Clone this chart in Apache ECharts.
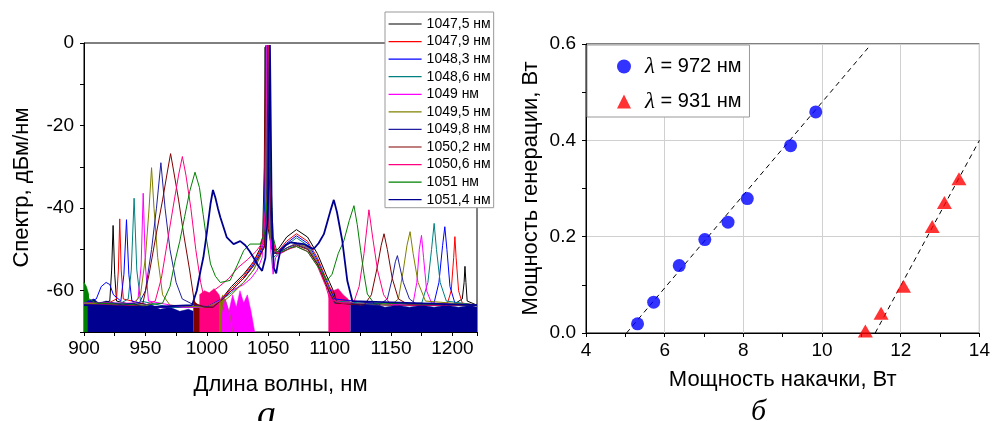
<!DOCTYPE html>
<html>
<head>
<meta charset="utf-8">
<script src="https://cdn.jsdelivr.net/npm/echarts@6/dist/echarts.min.js"></script>
<style>
html, body { margin: 0; padding: 0; background: #fff; }
#chart { width: 993px; height: 421px; }
</style>
</head>
<body>
<div id="chart"></div>
<script>
// ---- panel a: spectra, [wavelength nm, dBm/nm] ----
var spectrumNames = ['1047,5 нм', '1047,9 нм', '1048,3 нм', '1048,6 нм', '1049 нм', '1049,5 нм',
    '1049,8 нм', '1050,2 нм', '1050,6 нм', '1051 нм', '1051,4 нм'];

var sp1047_5 = [[900,-63],[915,-63],[921,-62.5],[922.5,-55],[923.7,-44.2],[925,-56],[926.5,-62.5],[940,-63.5],[960,-64],[980,-64],[1000,-64],[1012,-62],[1020,-59],[1030,-56],[1038,-53],[1043,-50],[1045.5,-47],[1046.8,-30],[1047.5,-1],[1048.2,-30],[1050,-45],[1053,-50],[1058,-50],[1065,-47],[1073,-45.2],[1082,-47],[1090,-51],[1097,-56],[1100,-58],[1103,-60],[1106,-63],[1150,-63.5],[1200,-63.5],[1208,-62],[1209.5,-58],[1210.2,-54.1],[1211,-58],[1212,-62.5],[1220,-63.5]];
var sp1047_9 = [[900,-63],[920,-63],[926.5,-62],[928,-55],[929.1,-42.6],[930.3,-55],[932,-62],[960,-64],[1000,-64],[1012,-62],[1020,-59.5],[1030,-56.5],[1038,-53],[1043,-50.5],[1046,-48],[1047.2,-30],[1047.9,-0.8],[1048.6,-30],[1050.5,-45],[1053,-50],[1058,-50.5],[1065,-48],[1073,-46.2],[1082,-48],[1090,-52],[1097,-57],[1100,-59],[1104,-62],[1150,-63.5],[1196,-63],[1199,-60],[1201,-52],[1202,-46.9],[1203,-52],[1205,-60],[1208,-63],[1220,-63.5]];
var sp1048_3 = [[900,-63],[910,-62],[914,-59],[918,-58],[921,-58.5],[924,-61],[930,-62.5],[932.5,-56],[934.6,-42.8],[936.5,-56],[939,-62.5],[960,-64],[1000,-64],[1012,-62],[1020,-60],[1030,-57],[1038,-53.5],[1043,-51],[1046.5,-48.5],[1047.6,-30],[1048.3,-0.5],[1049,-30],[1051,-45],[1054,-51],[1058,-50.5],[1065,-48.5],[1073,-46.7],[1082,-48.5],[1090,-52.5],[1097,-57.5],[1100,-59.5],[1104,-62],[1150,-63.5],[1185,-63],[1189,-58],[1192,-49],[1193.8,-44.5],[1195.5,-50],[1198,-59],[1202,-63],[1220,-63.5]];
var sp1048_6 = [[900,-63],[930,-63],[936,-62],[938.5,-55],[940.8,-37.6],[943,-55],[946,-62.5],[970,-64],[1000,-64],[1013,-62],[1020,-60.5],[1030,-58],[1038,-55],[1043,-52],[1047,-49],[1048,-30],[1048.6,-0.6],[1049.3,-30],[1051.5,-46],[1054,-52],[1058,-51],[1065,-49],[1073,-47.2],[1082,-49],[1090,-53],[1097,-58],[1100,-60],[1104,-62.5],[1150,-63.5],[1175,-63],[1180,-58],[1183,-50],[1185.1,-43.7],[1187,-50],[1190,-58],[1195,-62.5],[1220,-63.5]];
var sp1049 = [[900,-63],[940,-63],[944,-62],[946.5,-54],[948.2,-36.4],[950,-54],[952.5,-62.5],[980,-64],[1000,-64],[1010,-62.5],[1020,-60],[1030,-58.5],[1036,-57],[1041,-55],[1045,-52],[1047.8,-40],[1049,-0.5],[1050.2,-35],[1052,-50],[1054,-56],[1056,-52],[1060,-50.5],[1066,-49.5],[1073,-48.5],[1082,-49.5],[1090,-53],[1097,-58],[1100,-61],[1106,-63],[1150,-63.5],[1168,-63],[1171,-58],[1173,-50],[1174.8,-46.6],[1176.5,-52],[1179,-60],[1183,-63],[1220,-63.5]];
var sp1049_5 = [[900,-63],[940,-63.5],[946,-61],[950,-52],[953,-40],[955,-30.2],[957,-40],[960,-52],[964,-61],[970,-63.5],[1000,-64],[1008,-63],[1014,-62.5],[1020,-61],[1030,-58],[1038,-55],[1043,-52],[1047,-49],[1048.8,-35],[1049.5,-0.6],[1050.2,-30],[1052,-47],[1055,-51],[1060,-50.5],[1066,-49.5],[1073,-48.5],[1082,-49.5],[1090,-53],[1097,-58],[1100,-60],[1104,-63],[1150,-63.5],[1156,-62],[1160,-55],[1163,-49],[1165.5,-45.7],[1168,-51],[1172,-58],[1178,-62.5],[1220,-63.5]];
var sp1049_8 = [[900,-63.5],[945,-63],[950,-60],[955,-50],[959,-40],[962.6,-29],[966,-40],[970,-50],[975,-58],[980,-62],[990,-63.5],[1005,-64],[1013,-62],[1020,-60],[1030,-57],[1038,-54],[1043,-51.5],[1047,-49],[1049,-35],[1049.8,-0.5],[1050.6,-30],[1052.5,-47],[1055,-51],[1060,-50.5],[1066,-49.5],[1073,-48.8],[1082,-49.8],[1090,-53.5],[1097,-58.5],[1100,-60.5],[1104,-63],[1140,-63.5],[1147,-62],[1151,-57],[1153.5,-53],[1155.2,-51.5],[1157,-54],[1160,-58],[1165,-62],[1172,-63.5],[1220,-63.5]];
var sp1050_2 = [[900,-63.5],[940,-63.5],[948,-63],[953,-56],[959,-46],[964,-38],[968,-31],[970.5,-26.8],[973,-31],[977,-38],[981,-46],[986,-55],[990,-63],[998,-64],[1005,-64],[1013,-62],[1020,-60],[1030,-57],[1038,-54],[1043,-51.5],[1047,-49.5],[1049.5,-35],[1050.2,-0.5],[1051,-30],[1053,-47],[1056,-51],[1060,-50.8],[1066,-50],[1073,-49],[1082,-50],[1090,-53.5],[1097,-58.5],[1100,-60.5],[1105,-63],[1128,-63.5],[1134,-61],[1139,-54],[1142,-49],[1144.3,-46.2],[1147,-50],[1151,-57],[1156,-62],[1165,-63.5],[1220,-63.5]];
var sp1050_6 = [[900,-63.5],[950,-63.5],[958,-62.5],[963,-57],[968,-48],[973,-39],[977,-32],[980.1,-27.5],[983,-32],[987,-40],[991,-50],[995,-58],[998,-62],[1003,-60.5],[1010,-59],[1018,-57],[1025,-54.5],[1033,-52.5],[1040,-50.5],[1045,-48.5],[1049.8,-35],[1050.6,-0.5],[1051.4,-30],[1053.5,-47],[1056,-50.5],[1060,-51],[1066,-50],[1073,-49.3],[1082,-50.5],[1090,-54],[1097,-59],[1100,-62],[1110,-63],[1117,-63],[1120,-62.5],[1124,-59],[1128,-51],[1132,-40.4],[1135,-47],[1139,-55],[1144,-61],[1150,-63.5],[1220,-63.5]];
var sp1051 = [[900,-58],[902,-60],[904,-62],[910,-63],[950,-63.5],[964,-63],[970,-59],[974,-53],[978,-48],[982,-42],[986,-36],[990.4,-31.3],[994,-35],[997,-41.5],[1000,-48],[1003,-53.5],[1007,-56.5],[1011,-58],[1019,-57.5],[1024.5,-54],[1030,-50.3],[1035,-48.7],[1043.5,-48.7],[1047.7,-45.5],[1050.2,-30],[1051,-0.5],[1051.8,-30],[1054,-47],[1057,-50.5],[1062,-50.5],[1068,-49.6],[1073,-49.3],[1082,-50.5],[1090,-54],[1098,-57.5],[1102,-56],[1107,-51],[1111.6,-47.9],[1116,-43],[1119.8,-39.4],[1122.5,-44],[1125.3,-50.3],[1128,-56],[1130.7,-60.8],[1136,-63],[1220,-63.5]];
var sp1051_4 = [[900,-63.5],[950,-64],[988,-63.5],[991.8,-60],[995,-55],[997.2,-51.9],[1000,-46],[1003,-39],[1005,-35.6],[1007,-37.5],[1009,-40],[1011,-42.2],[1016.3,-47.1],[1021.8,-48.7],[1027.2,-48],[1031.3,-49],[1035,-50.5],[1038.1,-52],[1042,-54],[1045,-55.2],[1047.7,-52],[1049.8,-40],[1051.4,-0.5],[1052.8,-40],[1054.4,-54.4],[1056.5,-55.8],[1058,-53],[1059.9,-50.3],[1064,-49],[1068,-48.3],[1073,-48.5],[1078.8,-48.7],[1084,-49.5],[1087,-49.9],[1091,-48.5],[1095.3,-46.3],[1098,-43.5],[1100.7,-40.6],[1103.4,-38],[1106,-41],[1110.3,-47.9],[1114.4,-57.6],[1118.5,-62.5],[1220,-63.5]];

// noise floor that the analyser paints as solid colour (top edge, filled down to -70)
var noiseRoyalLeft = [[903,-62.5],[908,-62],[912,-63],[918,-62.5],[925,-63],[932,-63.5],[940,-63],[948,-64],[955,-63.5],[962,-64.5],[970,-64],[978,-65],[985,-64.5],[989,-65]];
var noiseRoyalRight = [[1117,-63],[1125,-63.5],[1135,-63],[1145,-64],[1155,-63.5],[1165,-64],[1175,-63.5],[1185,-64],[1195,-63.5],[1205,-64],[1215,-63.5],[1220,-64]];
var noiseGreen = [[900,-58],[902,-59],[904,-61]];
var noiseWine = [[989,-62],[991,-63],[993,-63.5],[995,-63.5]];
var noisePinkLeft = [[994,-61],[998,-60],[1002,-60.5],[1006,-59.5],[1010,-61],[1013,-64]];
var noiseOlive = [[1010,-63],[1013,-61],[1016,-63],[1019,-66],[1021,-70]];
var noiseMagenta = [[1012,-66],[1015,-62],[1018,-65],[1021,-61],[1024,-64],[1027,-60],[1030,-63],[1033,-61],[1036,-65],[1039,-70]];
var noisePinkRight = [[1099,-59],[1103,-60],[1107,-59.5],[1111,-61],[1115,-62],[1117,-63]];

var spectra = [sp1047_5, sp1047_9, sp1048_3, sp1048_6, sp1049, sp1049_5, sp1049_8, sp1050_2, sp1050_6, sp1051, sp1051_4];

// ---- panel b: output vs pump power ----
var pump972 = [5.31, 5.72, 6.37, 7.02, 7.61, 8.10, 9.20, 9.84];
var power972 = [0.019, 0.064, 0.140, 0.194, 0.230, 0.279, 0.389, 0.459];
var pump931 = [11.10, 11.50, 12.07, 12.80, 13.11, 13.48];
var power931 = [0.004, 0.041, 0.097, 0.221, 0.271, 0.320];
var fit972 = [[5.03, 0], [11.17, 0.592]];
var fit931 = [[11.35, 0], [14, 0.4]];

var FONT = 'Liberation Sans, Arial, sans-serif';
var colors = ['#000000', '#ff0000', '#0000ff', '#008080', '#ff00ff', '#808000',
    '#2020a0', '#800000', '#ff0080', '#008000', '#000090'];

function zip(xs, ys) {
    return xs.map(function (x, i) { return [x, ys[i]]; });
}

var series = [];
spectra.forEach(function (d, i) {
    series.push({
        type: 'line', name: spectrumNames[i], xAxisIndex: 0, yAxisIndex: 0,
        data: d, symbol: 'none',
        lineStyle: {width: i === 10 ? 1.8 : 1, color: colors[i]},
        itemStyle: {color: colors[i]}
    });
});

function band(data, color) {
    return {
        type: 'line', xAxisIndex: 0, yAxisIndex: 0, data: data, symbol: 'none',
        lineStyle: {width: 0.5, color: color},
        areaStyle: {color: color, opacity: 1, origin: 'start'},
        silent: true
    };
}
series.push(band(noiseGreen, colors[9]));
series.push(band(noiseWine, colors[7]));
series.push(band(noisePinkLeft, colors[8]));
series.push(band(noiseOlive, colors[5]));
series.push(band(noiseMagenta, colors[4]));
series.push(band(noisePinkRight, colors[8]));
series.push(band(noiseRoyalLeft, colors[10]));
series.push(band(noiseRoyalRight, colors[10]));

series.push({
    type: 'line', xAxisIndex: 1, yAxisIndex: 1, data: fit972, symbol: 'none',
    lineStyle: {type: [5, 4], color: '#000', width: 1}
});
series.push({
    type: 'line', xAxisIndex: 1, yAxisIndex: 1, data: fit931, symbol: 'none',
    lineStyle: {type: [5, 4], color: '#000', width: 1}
});
series.push({
    type: 'scatter', name: 'λ = 972 нм', xAxisIndex: 1, yAxisIndex: 1,
    data: zip(pump972, power972), symbol: 'circle', symbolSize: 13,
    itemStyle: {color: '#0000ff'}, z: 5
});
series.push({
    type: 'scatter', name: 'λ = 931 нм', xAxisIndex: 1, yAxisIndex: 1,
    data: zip(pump931, power931), symbol: 'triangle', symbolSize: [15, 13],
    itemStyle: {color: '#ff0000'}, z: 5
});

var axisCommon = {
    axisLine: {onZero: false, lineStyle: {color: '#000', width: 1}},
    axisTick: {length: 4, lineStyle: {color: '#000'}},
    nameLocation: 'middle',
    nameTextStyle: {fontSize: 22, color: '#000', fontFamily: FONT}
};

var option = {
    animation: false,
    backgroundColor: '#fff',
    textStyle: {fontFamily: FONT},
    title: [
        {text: 'а', left: 252, top: 392,
            textStyle: {fontFamily: 'Liberation Serif', fontStyle: 'italic', fontWeight: 'normal', fontSize: 38, color: '#000'}},
        {text: 'б', left: 746, top: 392,
            textStyle: {fontFamily: 'Liberation Serif', fontStyle: 'italic', fontWeight: 'normal', fontSize: 30, color: '#000'}}
    ],
    grid: [
        {left: 84, top: 43, width: 393, height: 289, show: true, borderColor: '#000', borderWidth: 1},
        {left: 586, top: 44, width: 394, height: 289, show: true, borderColor: '#000', borderWidth: 1}
    ],
    legend: [
        {
            data: spectrumNames, orient: 'vertical', left: 385, top: 12,
            itemWidth: 33, itemHeight: 14, itemGap: 3.57, padding: [5, 3, 1, 3],
            itemStyle: {opacity: 0},
            lineStyle: {width: 1.2},
            backgroundColor: '#fff', borderColor: '#999', borderWidth: 1, borderRadius: 0,
            textStyle: {fontSize: 14, color: '#000', fontFamily: FONT},
            selectedMode: false
        },
        {
            data: ['λ = 972 нм', 'λ = 931 нм'], orient: 'vertical', left: 587, top: 45,
            itemWidth: 14, itemHeight: 14, itemGap: 12, padding: [10, 8, 4, 30],
            backgroundColor: '#fff', borderColor: '#999', borderWidth: 1,
            formatter: function (name) { return '{l|λ}' + name.slice(1); },
            textStyle: {fontSize: 20, color: '#000', fontFamily: FONT, padding: [0, 0, 0, 9],
                rich: {l: {fontFamily: 'Liberation Serif', fontStyle: 'italic', fontSize: 23, color: '#000'}}},
            selectedMode: false
        }
    ],
    xAxis: [
        Object.assign({}, axisCommon, {
            gridIndex: 0, type: 'value', min: 900, max: 1220, interval: 25,
            name: 'Длина волны, нм', nameGap: 42,
            splitLine: {show: false},
            axisLabel: {color: '#000', fontSize: 19, margin: 7, fontFamily: FONT,
                formatter: function (v) { return v % 50 === 0 ? String(v) : ''; }}
        }),
        Object.assign({}, axisCommon, {
            gridIndex: 1, type: 'value', min: 4, max: 14, interval: 2,
            name: 'Мощность накачки, Вт', nameGap: 36,
            minorTick: {show: true, splitNumber: 2, length: 4, lineStyle: {color: '#000'}},
            splitLine: {show: true, lineStyle: {color: '#d0d0d0'}},
            axisLabel: {color: '#000', fontSize: 19, margin: 8, fontFamily: FONT}
        })
    ],
    yAxis: [
        Object.assign({}, axisCommon, {
            gridIndex: 0, type: 'value', min: -70, max: 0, interval: 10,
            name: 'Спектр, дБм/нм', nameGap: 51,
            splitLine: {show: false},
            axisLabel: {color: '#000', fontSize: 19, margin: 10, fontFamily: FONT,
                formatter: function (v) { return v % 20 === 0 ? String(v) : ''; }}
        }),
        Object.assign({}, axisCommon, {
            gridIndex: 1, type: 'value', min: 0, max: 0.6, interval: 0.2,
            name: 'Мощность генерации, Вт', nameGap: 44,
            minorTick: {show: true, splitNumber: 2, length: 4, lineStyle: {color: '#000'}},
            splitLine: {show: true, lineStyle: {color: '#d0d0d0'}},
            axisLabel: {color: '#000', fontSize: 19, margin: 10, fontFamily: FONT,
                formatter: function (v) { return v.toFixed(1); }}
        })
    ],
    series: series
};

var myChart = echarts.init(document.getElementById('chart'));
myChart.setOption(option);
</script>
</body>
</html>
